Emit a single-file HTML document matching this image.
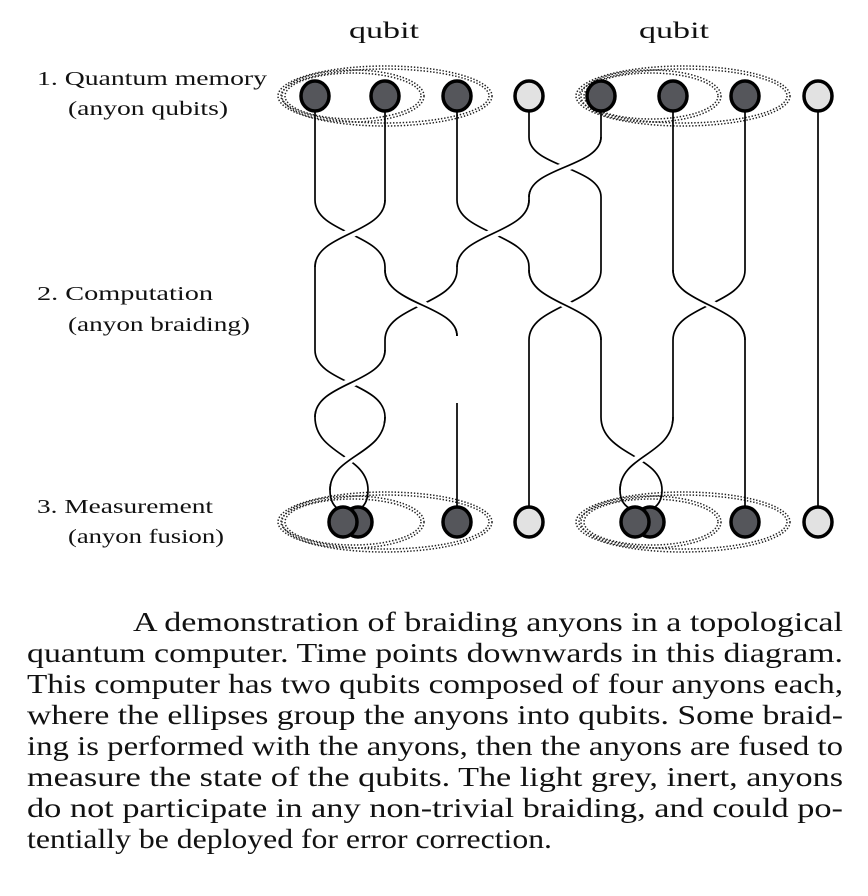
<!DOCTYPE html>
<html><head><meta charset="utf-8"><style>
html,body{margin:0;padding:0;background:#fff;}
svg{display:block;}
text{font-family:"Liberation Serif",serif;fill:#111;}
</style></head><body>
<svg width="868" height="896" viewBox="0 0 868 896" xmlns="http://www.w3.org/2000/svg">
<text x="349" y="38" font-size="23" textLength="70" lengthAdjust="spacingAndGlyphs">qubit</text>
<text x="639" y="38" font-size="23" textLength="70" lengthAdjust="spacingAndGlyphs">qubit</text>
<g font-size="20">
<text x="37" y="85" textLength="230" lengthAdjust="spacingAndGlyphs">1. Quantum memory</text>
<text x="68" y="115" textLength="160" lengthAdjust="spacingAndGlyphs">(anyon qubits)</text>
<text x="37" y="300" textLength="176" lengthAdjust="spacingAndGlyphs">2. Computation</text>
<text x="68" y="331" textLength="182" lengthAdjust="spacingAndGlyphs">(anyon braiding)</text>
<text x="37" y="513" textLength="176" lengthAdjust="spacingAndGlyphs">3. Measurement</text>
<text x="68" y="543" textLength="156" lengthAdjust="spacingAndGlyphs">(anyon fusion)</text>
</g>

<g fill="none" stroke="#222" stroke-width="1.5" stroke-dasharray="1.4 1.8">
<ellipse cx="385" cy="96" rx="107" ry="30"/><ellipse cx="385" cy="96" rx="104" ry="27"/>
<ellipse cx="353" cy="96" rx="71" ry="26"/><ellipse cx="353" cy="96" rx="68" ry="23"/>
<ellipse cx="683" cy="96" rx="107" ry="30"/><ellipse cx="683" cy="96" rx="104" ry="27"/>
<ellipse cx="651" cy="96" rx="70" ry="26"/><ellipse cx="651" cy="96" rx="67" ry="23"/>
<ellipse cx="385" cy="522" rx="107" ry="30"/><ellipse cx="385" cy="522" rx="104" ry="27"/>
<ellipse cx="353" cy="522" rx="71" ry="26"/><ellipse cx="353" cy="522" rx="68" ry="23"/>
<ellipse cx="683" cy="522" rx="107" ry="30"/><ellipse cx="683" cy="522" rx="104" ry="27"/>
<ellipse cx="651" cy="522" rx="70" ry="26"/><ellipse cx="651" cy="522" rx="67" ry="23"/>
</g>

<g fill="none" stroke="#000" stroke-width="1.7">
<path d="M315 110 V200 C315 233.5 385 233.5 385 267 V270 C385 305 457 305 457 336"/>
<path d="M457 403 V508"/>
<path d="M385 110 V200 C385 233.5 315 233.5 315 267 V350 C315 383 385 383 385 417 C385 455 330 455 330 490 Q330 505 340 510"/>
<path d="M601 110 V137 C601 167 529 167 529 197 V200 C529 233.5 457 233.5 457 267 V270 C457 305 385 305 385 340 V350 C385 383 315 383 315 417 C315 455 368 455 368 490 Q368 505 358 510"/>
<path d="M529 110 V137 C529 167 601 167 601 197 V270 C601 305 529 305 529 340 V508"/>
<path d="M457 110 V200 C457 233.5 529 233.5 529 267 V270 C529 305 601 305 601 340 V417 C601 455 662 455 662 490 Q662 505 650 510"/>
<path d="M673 110 V270 C673 305 745 305 745 340 V508"/>
<path d="M745 110 V270 C745 305 673 305 673 340 V417 C673 455 620 455 620 490 Q620 505 633 510"/>
<path d="M818 110 V508"/>
</g>
<g fill="none" stroke="#fff" stroke-width="9">
<path d="M601 143 C601 167 529 167 529 191"/>
<path d="M385 206 C385 233.5 315 233.5 315 261"/>
<path d="M529 206 C529 233.5 457 233.5 457 261"/>
<path d="M391 278 C400 300 445 310 452 330"/>
<path d="M535 278 C545 300 590 310 596 330"/>
<path d="M679 278 C690 300 735 310 740 330"/>
<path d="M385 356 C385 383 315 383 315 411"/>
<path d="M385 423 C385 455 330 455 330 484"/>
<path d="M673 423 C673 455 620 455 620 484"/>
</g>
<g fill="none" stroke="#000" stroke-width="1.7">
<path d="M601 137 C601 167 529 167 529 197"/>
<path d="M385 200 C385 233.5 315 233.5 315 267"/>
<path d="M529 200 C529 233.5 457 233.5 457 267"/>
<path d="M385 270 C385 305 457 305 457 336"/>
<path d="M529 270 C529 305 601 305 601 340"/>
<path d="M673 270 C673 305 745 305 745 340"/>
<path d="M385 350 C385 383 315 383 315 417"/>
<path d="M385 417 C385 455 330 455 330 490"/>
<path d="M673 417 C673 455 620 455 620 490"/>
</g>

<g stroke="#000" stroke-width="3.5">
<ellipse cx="315" cy="96" rx="14" ry="15" fill="#55565b"/>
<ellipse cx="385" cy="96" rx="14" ry="15" fill="#55565b"/>
<ellipse cx="457" cy="96" rx="14" ry="15" fill="#55565b"/>
<ellipse cx="529" cy="96" rx="14" ry="15" fill="#e2e2e2"/>
<ellipse cx="601" cy="96" rx="14" ry="15" fill="#55565b"/>
<ellipse cx="673" cy="96" rx="14" ry="15" fill="#55565b"/>
<ellipse cx="745" cy="96" rx="14" ry="15" fill="#55565b"/>
<ellipse cx="818" cy="96" rx="14" ry="15" fill="#e2e2e2"/>
<ellipse cx="358" cy="522" rx="14" ry="15" fill="#55565b"/>
<ellipse cx="343" cy="522" rx="14" ry="15" fill="#55565b"/>
<ellipse cx="457" cy="522" rx="14" ry="15" fill="#55565b"/>
<ellipse cx="529" cy="522" rx="14" ry="15" fill="#e2e2e2"/>
<ellipse cx="650" cy="522" rx="14" ry="15" fill="#55565b"/>
<ellipse cx="635" cy="522" rx="14" ry="15" fill="#55565b"/>
<ellipse cx="745" cy="522" rx="14" ry="15" fill="#55565b"/>
<ellipse cx="818" cy="522" rx="14" ry="15" fill="#e2e2e2"/>
</g>

<g font-size="27">
<text x="133" y="631" textLength="710" lengthAdjust="spacingAndGlyphs">A demonstration of braiding anyons in a topological</text>
<text x="27" y="662" textLength="816" lengthAdjust="spacingAndGlyphs">quantum computer. Time points downwards in this diagram.</text>
<text x="27" y="693" textLength="816" lengthAdjust="spacingAndGlyphs">This computer has two qubits composed of four anyons each,</text>
<text x="27" y="724" textLength="816" lengthAdjust="spacingAndGlyphs">where the ellipses group the anyons into qubits. Some braid-</text>
<text x="27" y="755" textLength="816" lengthAdjust="spacingAndGlyphs">ing is performed with the anyons, then the anyons are fused to</text>
<text x="27" y="786" textLength="816" lengthAdjust="spacingAndGlyphs">measure the state of the qubits. The light grey, inert, anyons</text>
<text x="27" y="817" textLength="816" lengthAdjust="spacingAndGlyphs">do not participate in any non-trivial braiding, and could po-</text>
<text x="27" y="848" textLength="525" lengthAdjust="spacingAndGlyphs">tentially be deployed for error correction.</text>
</g>
</svg>
</body></html>
